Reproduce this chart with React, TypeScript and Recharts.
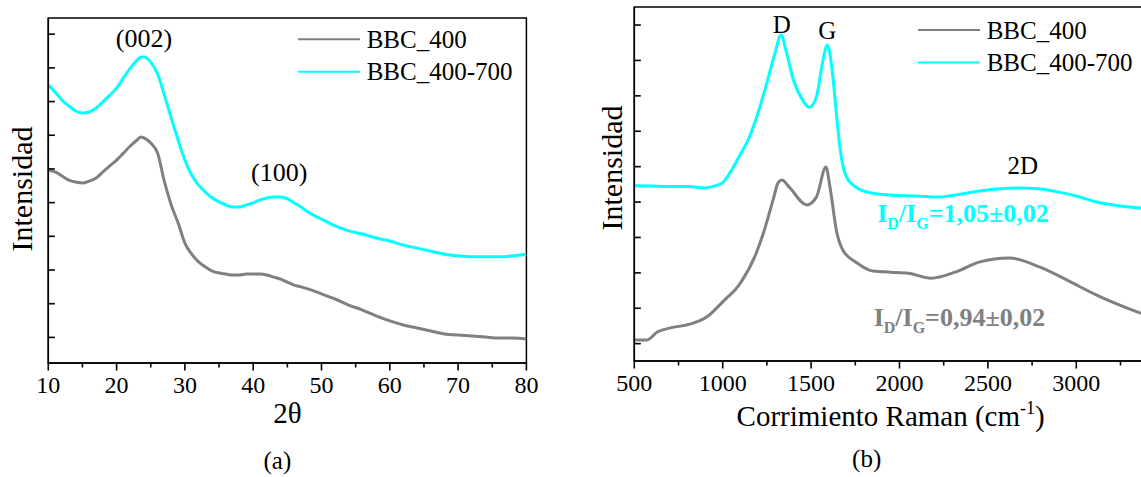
import React from 'react';
import { LineChart, Line, XAxis, YAxis, ReferenceDot, ReferenceArea, Legend } from 'recharts';

const FONT = '"Liberation Serif", "Times New Roman", serif';
const GRAY = '#808080';
const CYAN = '#00FFFF';
const BLACK = '#000000';

// ---------- (a) XRD ----------
const xrdAngle = [10, 11, 12, 13, 14, 15, 16, 17, 18, 19, 20, 21, 22, 23, 23.6, 24, 25, 26, 27, 28, 29, 30, 31, 32, 33, 34, 35, 36, 37, 38, 39, 40, 41, 42, 43, 44, 45, 46, 47, 48, 50, 52, 54, 56, 58, 60, 62, 64, 66, 68, 70, 72, 74, 76, 78, 80];
const xrdBBC400 = [5.97, 5.91, 5.79, 5.67, 5.61, 5.58, 5.64, 5.73, 5.91, 6.09, 6.26, 6.47, 6.68, 6.86, 6.95, 6.92, 6.77, 6.47, 5.62, 4.93, 4.40, 3.80, 3.47, 3.24, 3.09, 2.97, 2.91, 2.88, 2.85, 2.85, 2.88, 2.88, 2.88, 2.85, 2.79, 2.73, 2.64, 2.55, 2.50, 2.44, 2.29, 2.14, 1.96, 1.81, 1.64, 1.49, 1.37, 1.28, 1.19, 1.10, 1.07, 1.04, 1.01, 0.98, 0.98, 0.95];
const xrdBBC400700 = [8.49, 8.28, 8.04, 7.87, 7.72, 7.66, 7.69, 7.81, 7.99, 8.19, 8.40, 8.70, 8.99, 9.23, 9.32, 9.32, 9.17, 8.82, 8.19, 7.51, 6.86, 6.26, 5.82, 5.52, 5.31, 5.14, 5.02, 4.93, 4.87, 4.87, 4.93, 4.99, 5.08, 5.14, 5.17, 5.17, 5.11, 4.99, 4.87, 4.72, 4.51, 4.31, 4.16, 4.07, 3.95, 3.86, 3.74, 3.65, 3.56, 3.47, 3.42, 3.39, 3.39, 3.39, 3.42, 3.47];
const xrdMajorTicks = [10, 20, 30, 40, 50, 60, 70, 80];
const xrdMinorTicks = [15, 25, 35, 45, 55, 65, 75];
const xrdIntensityTicks = [1, 2, 3, 4, 5, 6, 7, 8, 9, 10];
const xrdDomainX = [10, 80];
const xrdDomainY = [0.24, 10.48];

// ---------- (b) Raman ----------
const ramanShiftBBC400 = [500, 570, 630, 700, 815, 909, 1000, 1100, 1190, 1230, 1285, 1313, 1334, 1380, 1475, 1530, 1584, 1607, 1645, 1680, 1760, 1850, 1950, 2050, 2180, 2315, 2455, 2620, 2795, 2946, 3115, 3285, 3365, 3400];
const ramanBBC400 = [1.10, 1.10, 1.33, 1.44, 1.55, 1.75, 2.18, 2.71, 3.56, 4.12, 5.06, 5.54, 5.62, 5.40, 4.92, 5.14, 5.99, 5.42, 4.15, 3.64, 3.28, 3.05, 3.02, 2.99, 2.85, 3.02, 3.31, 3.42, 3.16, 2.80, 2.37, 2.01, 1.86, 1.80];
const ramanShiftBBC400700 = [500, 600, 700, 800, 900, 950, 1000, 1057, 1100, 1136, 1193, 1249, 1296, 1330, 1360, 1400, 1440, 1490, 1530, 1565, 1592, 1617, 1645, 1665, 1700, 1760, 1850, 1950, 2100, 2220, 2350, 2450, 2550, 2680, 2800, 2900, 3000, 3115, 3250, 3365, 3400];
const ramanBBC400700 = [5.46, 5.45, 5.44, 5.44, 5.40, 5.45, 5.55, 5.96, 6.35, 6.67, 7.41, 8.35, 9.21, 9.72, 9.24, 8.45, 7.99, 7.68, 7.97, 8.95, 9.44, 8.81, 7.40, 6.47, 5.71, 5.40, 5.25, 5.20, 5.17, 5.14, 5.23, 5.31, 5.37, 5.40, 5.37, 5.28, 5.17, 5.00, 4.89, 4.83, 4.82];
const ramanMajorTicks = [500, 1000, 1500, 2000, 2500, 3000];
const ramanMinorTicks = [750, 1250, 1750, 2250, 2750, 3250];
const ramanIntensityTicks = [1, 2, 3, 4, 5, 6, 7, 8, 9, 10];
const ramanDomainX = [500, 3400];
const ramanDomainY = [0.51, 10.51];

const seriesNames = ['BBC_400', 'BBC_400-700'];

const xrdData = xrdAngle.map((a, i) => ({ angle: a, bbc400: xrdBBC400[i], bbc400700: xrdBBC400700[i] }));
const ramanData400 = ramanShiftBBC400.map((s, i) => ({ shift: s, value: ramanBBC400[i] }));
const ramanData400700 = ramanShiftBBC400700.map((s, i) => ({ shift: s, value: ramanBBC400700[i] }));

const xrdAllTicks = [...xrdMajorTicks, ...xrdMinorTicks].sort((a, b) => a - b);
const ramanAllTicks = [...ramanMajorTicks, ...ramanMinorTicks].sort((a, b) => a - b);

const axisLine = { stroke: BLACK, strokeWidth: 1.5 };
const X_AXIS_H = 40;
const Y_AXIS_W = 40;

// custom tick renderers: tickSize/tickMargin are 0, so (x, y) is the point on the axis line
const makeXTick = (majors: number[]) => (p: any) => {
  const v = p.payload ? p.payload.value : null;
  const isMajor = majors.indexOf(v) >= 0;
  const len = isMajor ? 8 : 5;
  return (
    <g>
      <rect x={p.x - 0.8} y={p.y - 0.5} width={1.6} height={len} fill={BLACK} />
      {isMajor && (
        <text x={p.x} y={p.y + 30} textAnchor="middle" fontSize={24} fontFamily={FONT} fill={BLACK}>{v}</text>
      )}
    </g>
  );
};
const inwardYTick = (p: any) => (
  <rect x={p.x} y={p.y - 0.8} width={6.5} height={1.6} fill={BLACK} />
);

const makeLegend = (top: number) => (props: any) => {
  const items = (props && props.payload) || [];
  const colors = [GRAY, CYAN];
  return (
    <svg width={230} height={70} style={{ display: 'block', overflow: 'visible' }}>
      {seriesNames.map((n, i) => {
        const it = items.find((p: any) => p.value === n);
        const y = top + i * 32.5;
        return (
          <g key={n}>
            <line x1={0} x2={62} y1={y} y2={y} stroke={(it && it.color) || colors[i]} strokeWidth={2} />
            <text x={68.7} y={y} dominantBaseline="central" fontSize={25} fontFamily={FONT} fill={BLACK}>{n}</text>
          </g>
        );
      })}
    </svg>
  );
};

const textShape = (label: string, size = 25) => (p: any) => (
  <text x={p.cx} y={p.cy} textAnchor="middle" dominantBaseline="central" fontSize={size} fontFamily={FONT} fill={BLACK}>{label}</text>
);

const ratioShape = (value: string, color: string) => (p: any) => (
  <text x={p.cx} y={p.cy + 9} textAnchor="middle" fontSize={26} fontWeight="bold" fontFamily={FONT} fill={color}>
    I<tspan fontSize={16} dy={7}>D</tspan><tspan dy={-7}>/I</tspan><tspan fontSize={16} dy={7}>G</tspan><tspan dy={-7}>{value}</tspan>
  </text>
);

const xTitle = (title: React.ReactNode, caption: string, titleOffset: number, captionDx: number) => (p: any) => {
  const vb = p.viewBox || {};
  const cx = vb.x + vb.width / 2;
  return (
    <g>
      <text x={cx} y={vb.y + titleOffset} textAnchor="middle" fontSize={29} fontFamily={FONT} fill={BLACK}>{title}</text>
      <text x={cx + captionDx} y={vb.y + 106} textAnchor="middle" fontSize={25} fontFamily={FONT} fill={BLACK}>{caption}</text>
    </g>
  );
};

const yTitle = (xAbs: number, cy: number) => () => (
  <text x={xAbs} y={cy} transform={`rotate(-90, ${xAbs}, ${cy})`} textAnchor="middle" fontSize={30} fontFamily={FONT} fill={BLACK}>Intensidad</text>
);

const XrdChart = () => (
  <LineChart width={570} height={477} data={xrdData} margin={{ top: 18, right: 43.6, bottom: 114 - X_AXIS_H, left: 48.3 }}>
    <ReferenceArea x1={xrdDomainX[0]} x2={xrdDomainX[1]} y1={xrdDomainY[0]} y2={xrdDomainY[1]} fill="none" stroke={BLACK} strokeWidth={1.5} ifOverflow="visible" />
    <XAxis dataKey="angle" type="number" domain={xrdDomainX} allowDataOverflow ticks={xrdAllTicks} interval={0} height={X_AXIS_H}
      tickSize={0} tickMargin={0} tick={makeXTick(xrdMajorTicks)} axisLine={axisLine} tickLine={false}
      label={xTitle('2θ', '(a)', 60, -10)} />
    <YAxis type="number" domain={xrdDomainY} allowDataOverflow ticks={xrdIntensityTicks} interval={0} width={Y_AXIS_W} mirror
      tickSize={0} tickMargin={0} tick={inwardYTick} axisLine={axisLine} tickLine={false} label={yTitle(32, 189)} />
    <Line dataKey="bbc400" name={seriesNames[0]} type="monotone" stroke={GRAY} strokeWidth={3} dot={false} isAnimationActive={false} />
    <Line dataKey="bbc400700" name={seriesNames[1]} type="monotone" stroke={CYAN} strokeWidth={3} dot={false} isAnimationActive={false} />
    <ReferenceDot x={24.0} y={9.88} r={0} shape={textShape('(002)', 26)} />
    <ReferenceDot x={43.8} y={5.88} r={0} shape={textShape('(100)', 26)} />
    <Legend layout="horizontal" verticalAlign="middle" align="center" content={makeLegend(19.3)}
      wrapperStyle={{ left: 298, top: 20, width: 230, height: 70 }} />
  </LineChart>
);

const RamanChart = () => (
  <LineChart width={577} height={477} margin={{ top: 7, right: 0, bottom: 116 - X_AXIS_H, left: 64.3 }}>
    <ReferenceArea x1={ramanDomainX[0]} x2={ramanDomainX[1]} y1={ramanDomainY[0]} y2={ramanDomainY[1]} fill="none" stroke={BLACK} strokeWidth={1.5} ifOverflow="visible" />
    <XAxis dataKey="shift" type="number" domain={ramanDomainX} allowDataOverflow ticks={ramanAllTicks} interval={0} height={X_AXIS_H}
      tickSize={0} tickMargin={0} tick={makeXTick(ramanMajorTicks)} axisLine={axisLine} tickLine={false}
      label={xTitle(<>Corrimiento Raman (cm<tspan fontSize={18} dy={-12}>-1</tspan><tspan dy={12}>)</tspan></>, '(b)', 65, -24)} />
    <YAxis type="number" domain={ramanDomainY} allowDataOverflow ticks={ramanIntensityTicks} interval={0} width={Y_AXIS_W} mirror
      tickSize={0} tickMargin={0} tick={inwardYTick} axisLine={axisLine} tickLine={false} label={yTitle(52, 168)} />
    <Line data={ramanData400} dataKey="value" name={seriesNames[0]} type="monotone" stroke={GRAY} strokeWidth={3} dot={false} isAnimationActive={false} />
    <Line data={ramanData400700} dataKey="value" name={seriesNames[1]} type="monotone" stroke={CYAN} strokeWidth={3} dot={false} isAnimationActive={false} />
    <ReferenceDot x={1334} y={10.01} r={0} shape={textShape('D')} />
    <ReferenceDot x={1592} y={9.86} r={0} shape={textShape('G')} />
    <ReferenceDot x={2698} y={6.02} r={0} shape={textShape('2D')} />
    <ReferenceDot x={2359} y={4.69} r={0} shape={ratioShape('=1,05±0,02', CYAN)} />
    <ReferenceDot x={2339} y={1.75} r={0} shape={ratioShape('=0,94±0,02', GRAY)} />
    <Legend layout="horizontal" verticalAlign="middle" align="center" content={makeLegend(20)}
      wrapperStyle={{ left: 348, top: 10, width: 229, height: 70 }} />
  </LineChart>
);

export default function App() {
  return (
    <div style={{ position: 'absolute', left: 0, top: 0, width: 1141, height: 477, overflow: 'hidden', background: '#ffffff', fontFamily: FONT }}>
      <div style={{ position: 'absolute', left: 0, top: 0 }}><XrdChart /></div>
      <div style={{ position: 'absolute', left: 570, top: 0 }}><RamanChart /></div>
    </div>
  );
}
